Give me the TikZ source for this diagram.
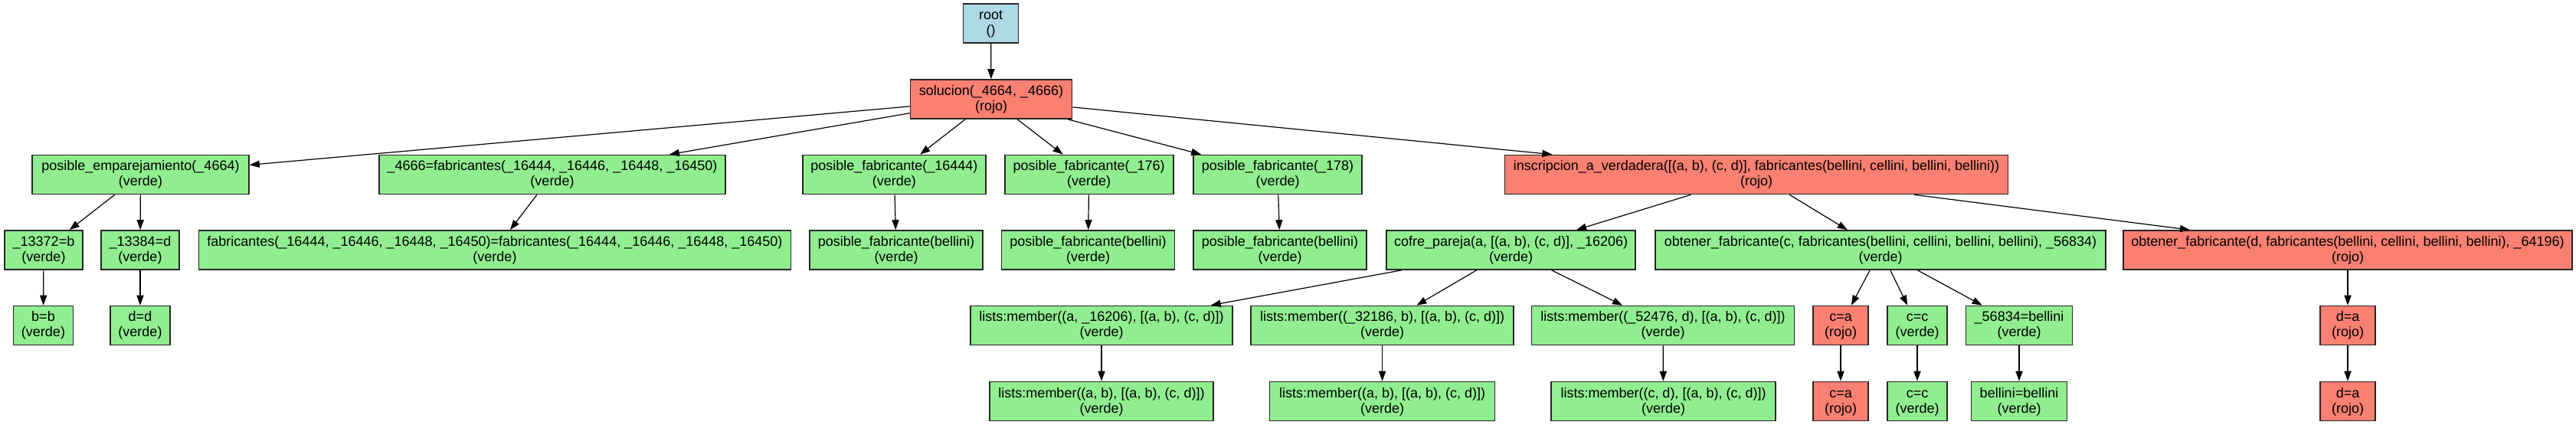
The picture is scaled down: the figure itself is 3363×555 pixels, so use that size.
\documentclass[tikz,border=0pt]{standalone}
\usepackage{fontspec}
\setmainfont{Liberation Sans}
\usetikzlibrary{arrows.meta}
\definecolor{gverde}{HTML}{90EE90}
\definecolor{grojo}{HTML}{FA8072}
\definecolor{gazul}{HTML}{ADD8E6}
\definecolor{gborde}{HTML}{262626}
\newcommand{\gstrut}{\rule[-2pt]{0pt}{9pt}}
\newcommand{\glab}[2]{\gstrut#1\\\gstrut#2}
\tikzset{
  gnode/.style={draw=gborde, line width=0.8pt, rectangle, inner sep=0pt,
    minimum height=25.5pt, align=center, text=black,
    font=\fontsize{9pt}{10pt}\selectfont},
  verde/.style={gnode, fill=gverde},
  rojo/.style={gnode, fill=grojo},
  azul/.style={gnode, fill=gazul},
  w/.style={minimum width=#1*0.5pt},
  garrow/.style={draw=black, line width=0.6pt, -{Triangle[length=6.5pt,width=4.6pt]}}
}
\begin{document}
\begin{tikzpicture}[x=0.5pt,y=-0.5pt]
\useasboundingbox (0,0) rectangle (3363,555);
% row 0 and 1
\node[azul,w=72] (root) at (1293.6,30.5) {\glab{root}{()}};
\node[rojo,w=211] (sol) at (1294,129.5) {\glab{solucion(\_4664, \_4666)}{(rojo)}};
% row 2
\node[verde,w=283] (pe) at (183.5,228) {\glab{posible\_emparejamiento(\_4664)}{(verde)}};
\node[verde,w=452] (f4666) at (721,228) {\glab{\_4666=fabricantes(\_16444, \_16446, \_16448, \_16450)}{(verde)}};
\node[verde,w=239] (pf1) at (1167.4,228) {\glab{posible\_fabricante(\_16444)}{(verde)}};
\node[verde,w=220] (pf2) at (1421.7,228) {\glab{posible\_fabricante(\_176)}{(verde)}};
\node[verde,w=220] (pf3) at (1668,228) {\glab{posible\_fabricante(\_178)}{(verde)}};
\node[rojo,w=657] (insc) at (2293,228) {\glab{inscripcion\_a\_verdadera([(a, b), (c, d)], fabricantes(bellini, cellini, bellini, bellini))}{(rojo)}};
% row 3
\node[verde,w=102] (b1) at (57,326.5) {\glab{\_13372=b}{(verde)}};
\node[verde,w=102] (d1) at (183,326.5) {\glab{\_13384=d}{(verde)}};
\node[verde,w=773] (ff) at (646,326.5) {\glab{fabricantes(\_16444, \_16446, \_16448, \_16450)=fabricantes(\_16444, \_16446, \_16448, \_16450)}{(verde)}};
\node[verde,w=226] (pb1) at (1170,326.5) {\glab{posible\_fabricante(bellini)}{(verde)}};
\node[verde,w=226] (pb2) at (1420.5,326.5) {\glab{posible\_fabricante(bellini)}{(verde)}};
\node[verde,w=226] (pb3) at (1671,326.5) {\glab{posible\_fabricante(bellini)}{(verde)}};
\node[verde,w=325] (cp) at (1972.6,326.5) {\glab{cofre\_pareja(a, [(a, b), (c, d)], \_16206)}{(verde)}};
\node[verde,w=588] (ofc) at (2455,326.5) {\glab{obtener\_fabricante(c, fabricantes(bellini, cellini, bellini, bellini), \_56834)}{(verde)}};
\node[rojo,w=586] (ofd) at (3065,326.5) {\glab{obtener\_fabricante(d, fabricantes(bellini, cellini, bellini, bellini), \_64196)}{(rojo)}};
% row 4
\node[verde,w=78] (bb) at (56.5,425) {\glab{b=b}{(verde)}};
\node[verde,w=78] (dd) at (183,425) {\glab{d=d}{(verde)}};
\node[verde,w=342] (lm1) at (1438,425) {\glab{lists:member((a, \_16206), [(a, b), (c, d)])}{(verde)}};
\node[verde,w=343] (lm2) at (1804.6,425) {\glab{lists:member((\_32186, b), [(a, b), (c, d)])}{(verde)}};
\node[verde,w=343] (lm3) at (2171,425) {\glab{lists:member((\_52476, d), [(a, b), (c, d)])}{(verde)}};
\node[rojo,w=72] (ca) at (2403,425) {\glab{c=a}{(rojo)}};
\node[verde,w=78] (cc) at (2503,425) {\glab{c=c}{(verde)}};
\node[verde,w=139] (sb) at (2636,425) {\glab{\_56834=bellini}{(verde)}};
\node[rojo,w=72] (da) at (3065,425) {\glab{d=a}{(rojo)}};
% row 5
\node[verde,w=292] (lm1b) at (1438,524) {\glab{lists:member((a, b), [(a, b), (c, d)])}{(verde)}};
\node[verde,w=294] (lm2b) at (1804.6,524) {\glab{lists:member((a, b), [(a, b), (c, d)])}{(verde)}};
\node[verde,w=293] (lm3b) at (2171.5,524) {\glab{lists:member((c, d), [(a, b), (c, d)])}{(verde)}};
\node[rojo,w=72] (ca2) at (2403,524) {\glab{c=a}{(rojo)}};
\node[verde,w=78] (cc2) at (2503,524) {\glab{c=c}{(verde)}};
\node[verde,w=125] (bel) at (2636,524) {\glab{bellini=bellini}{(verde)}};
\node[rojo,w=72] (da2) at (3065,524) {\glab{d=a}{(rojo)}};
% edges
\foreach \a/\b in {root/sol, sol/pe, sol/f4666, sol/pf1, sol/pf2, sol/pf3, sol/insc,
  pe/b1, pe/d1, f4666/ff, pf1/pb1, pf2/pb2, pf3/pb3, insc/cp, insc/ofc, insc/ofd,
  b1/bb, d1/dd, cp/lm1, cp/lm2, cp/lm3, ofc/ca, ofc/cc, ofc/sb, ofd/da,
  lm1/lm1b, lm2/lm2b, lm3/lm3b, ca/ca2, cc/cc2, sb/bel, da/da2}
  \draw[garrow] (\a) -- (\b);
\end{tikzpicture}
\end{document}
